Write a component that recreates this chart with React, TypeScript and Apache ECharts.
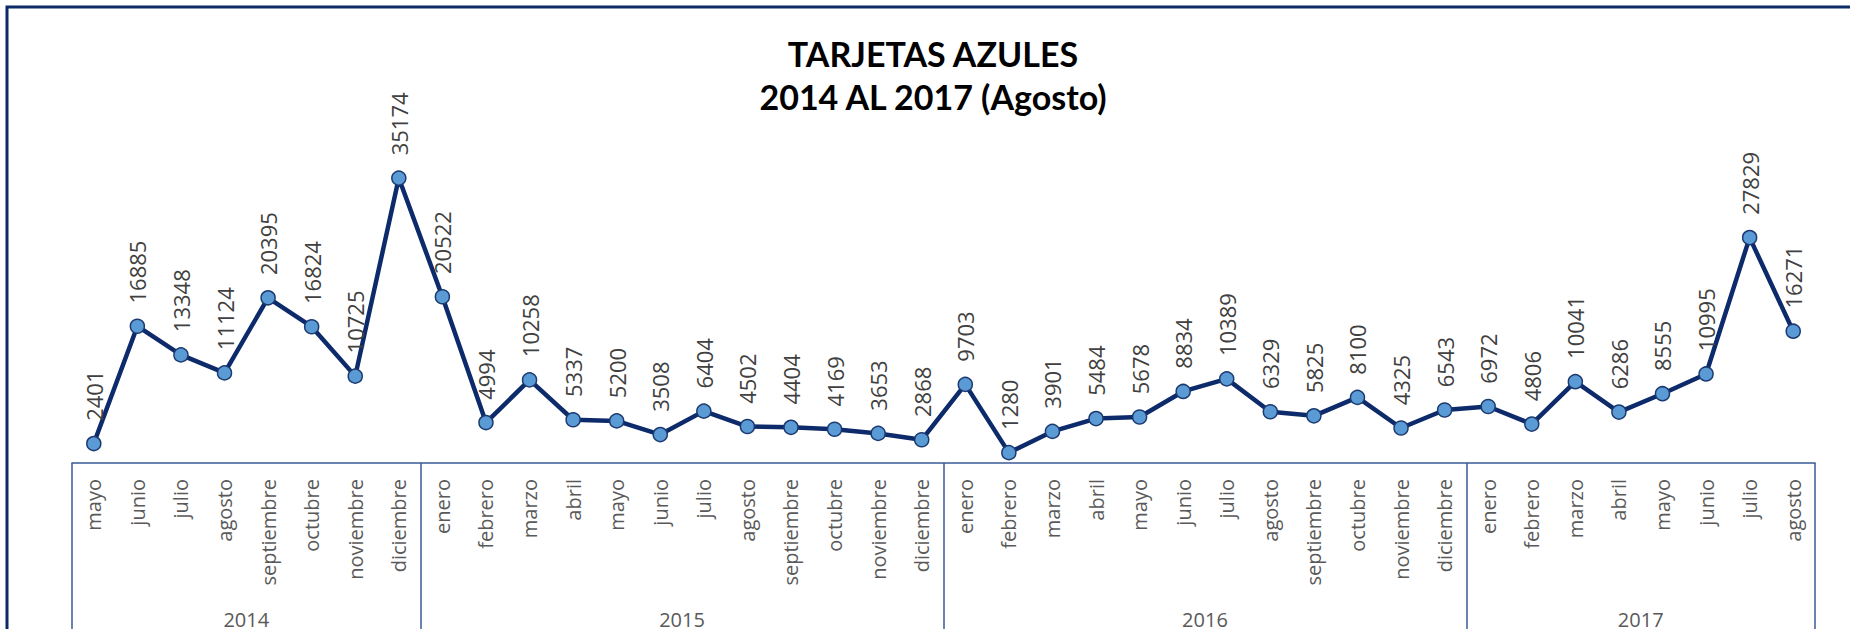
import React, { useEffect, useRef } from "react";
import * as echarts from "echarts";

const years = ["2014", "2015", "2016", "2017"];

const months2014 = ["mayo", "junio", "julio", "agosto", "septiembre", "octubre", "noviembre", "diciembre"];
const months2015 = ["enero", "febrero", "marzo", "abril", "mayo", "junio", "julio", "agosto", "septiembre", "octubre", "noviembre", "diciembre"];
const months2016 = ["enero", "febrero", "marzo", "abril", "mayo", "junio", "julio", "agosto", "septiembre", "octubre", "noviembre", "diciembre"];
const months2017 = ["enero", "febrero", "marzo", "abril", "mayo", "junio", "julio", "agosto"];

const values2014 = [2401, 16885, 13348, 11124, 20395, 16824, 10725, 35174];
const values2015 = [20522, 4994, 10258, 5337, 5200, 3508, 6404, 4502, 4404, 4169, 3653, 2868];
const values2016 = [9703, 1280, 3901, 5484, 5678, 8834, 10389, 6329, 5825, 8100, 4325, 6543];
const values2017 = [6972, 4806, 10041, 6286, 8555, 10995, 27829, 16271];

const titleLine1 = "TARJETAS AZULES";
const titleLine2 = "2014 AL 2017 (Agosto)";

export default function App() {
  const ref = useRef<HTMLDivElement>(null);

  useEffect(() => {
    if (!ref.current) return;
    const chart = echarts.init(ref.current, undefined, { renderer: "svg" });

    const monthGroups = [months2014, months2015, months2016, months2017];
    const categories = monthGroups.flat();
    const values = [...values2014, ...values2015, ...values2016, ...values2017];

    // indices where a new year starts
    const yearStarts: number[] = [];
    let acc = 0;
    monthGroups.forEach((g) => {
      yearStarts.push(acc);
      acc += g.length;
    });

    // second axis: boundary points 0..N, year names at group centers
    const yearAxisData: string[] = new Array(categories.length + 1).fill("");
    monthGroups.forEach((g, i) => {
      const center = yearStarts[i] + g.length / 2;
      yearAxisData[Math.round(center)] = years[i];
    });

    const boxColor = "#3a5a96";
    const labelColor = "#595959";

    chart.setOption({
      animation: false,
      backgroundColor: "#ffffff",
      grid: { left: 72, right: 35, top: 139, bottom: 165, containLabel: false },
      graphic: [
        {
          type: "rect",
          shape: { x: 7, y: 7, width: 1900, height: 700 },
          style: { fill: "none", stroke: "#0c2a66", lineWidth: 3 },
          silent: true,
        },
        {
          type: "text",
          x: 933,
          y: 53,
          style: {
            text: titleLine1,
            font: "bold 34px Lato",
            fill: "#000000",
            textAlign: "center",
            textVerticalAlign: "middle",
          },
        },
        {
          type: "text",
          x: 933,
          y: 96,
          style: {
            text: titleLine2,
            font: "bold 34px Lato",
            fill: "#000000",
            textAlign: "center",
            textVerticalAlign: "middle",
          },
        },
      ],
      xAxis: [
        {
          type: "category",
          data: categories,
          boundaryGap: true,
          axisLine: { show: true, lineStyle: { color: boxColor, width: 1.5 } },
          axisTick: {
            show: true,
            interval: (i: number) => yearStarts.includes(i),
            length: 180,
            lineStyle: { color: boxColor, width: 1.5 },
          },
          axisLabel: {
            interval: 0,
            rotate: 90,
            margin: 16,
            fontFamily: "Open Sans",
            fontSize: 20,
            color: labelColor,
          },
          splitLine: { show: false },
        },
        {
          type: "category",
          data: yearAxisData,
          boundaryGap: false,
          position: "bottom",
          axisLine: { show: false },
          axisTick: { show: false },
          axisLabel: {
            interval: 0,
            margin: 146,
            fontFamily: "Open Sans",
            fontSize: 20,
            color: labelColor,
          },
          splitLine: { show: false },
        },
      ],
      yAxis: {
        type: "value",
        min: 0,
        max: 40000,
        show: false,
        splitLine: { show: false },
      },
      series: [
        {
          type: "line",
          xAxisIndex: 0,
          data: values,
          symbol: "circle",
          symbolSize: 14,
          lineStyle: { color: "#0d2b6b", width: 4.5 },
          itemStyle: { color: "#5b9bd5", borderColor: "#1c3a70", borderWidth: 1.5 },
          label: {
            show: true,
            position: "top",
            distance: 15,
            rotate: 90,
            align: "left",
            verticalAlign: "middle",
            fontFamily: "Open Sans",
            fontSize: 22,
            color: "#404040",
          },
          z: 3,
        },
      ],
    });

    return () => chart.dispose();
  }, []);

  return (
    <div
      ref={ref}
      style={{ position: "absolute", left: 0, top: 0, width: 1850, height: 629, background: "#fff" }}
    />
  );
}
